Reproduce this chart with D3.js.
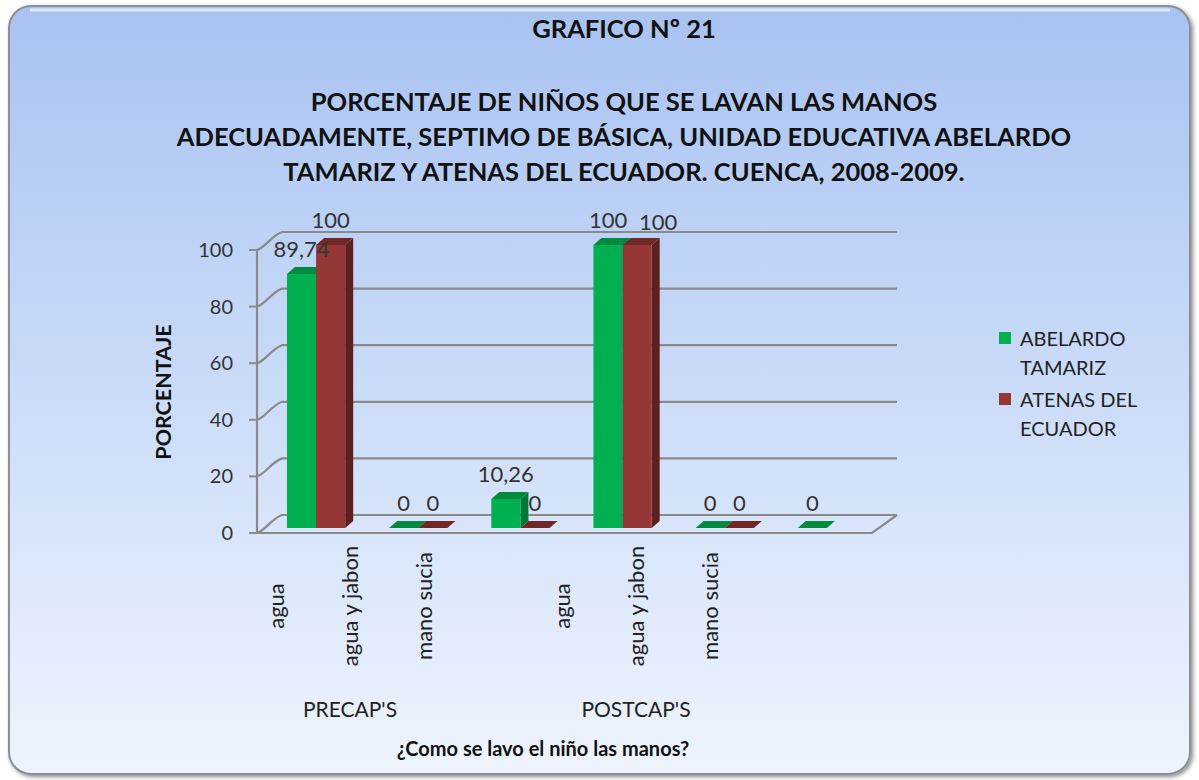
<!DOCTYPE html>
<html>
<head>
<meta charset="utf-8">
<script src="https://cdn.jsdelivr.net/npm/d3@7"></script>
<style>
  body { margin: 0; background: #ffffff; }
  svg { display: block; }
  text { font-family: Lato, "Open Sans", sans-serif; }
</style>
</head>
<body>
<svg width="1199" height="780"></svg>
<script>
// data
const groups = ["PRECAP'S", "POSTCAP'S"];
const subCats = ["agua", "agua y jabon", "mano sucia"];
const categories = ["pre-agua", "pre-jabon", "pre-sucia", "post-agua", "post-jabon", "post-sucia"];
const series = ["ABELARDO TAMARIZ", "ATENAS DEL ECUADOR"];
const abelardo = [89.74, 0, 10.26, 100, 0, 0];
const atenas = [100, 0, 0, 100, 0, null];
const labelsAbelardo = ["89,74", "0", "10,26", "100", "0", "0"];
const labelsAtenas = ["100", "0", "0", "100", "0", null];
const yTicks = [0, 20, 40, 60, 80, 100];
const legendLines = [["ABELARDO", "TAMARIZ"], ["ATENAS DEL", "ECUADOR"]];

const colors = {
  front: ["#00b050", "#953735"],
  top: ["#008a3e", "#6f2826"],
  side: ["#007a36", "#5c201e"]
};

const svg = d3.select('svg');
const width = +svg.attr('width');
const height = +svg.attr('height');

// background panel
const defs = svg.append('defs');
const bg = defs.append('linearGradient').attr('id', 'bg')
  .attr('x1', 0).attr('y1', 0).attr('x2', 0).attr('y2', 1);
bg.append('stop').attr('offset', '0%').attr('stop-color', '#a8c2f1');
bg.append('stop').attr('offset', '50%').attr('stop-color', '#cbdcf8');
bg.append('stop').attr('offset', '100%').attr('stop-color', '#eef4fd');

const shadow = defs.append('filter').attr('id', 'shadow')
  .attr('x', '-5%').attr('y', '-5%').attr('width', '110%').attr('height', '110%');
shadow.append('feDropShadow').attr('dx', 2).attr('dy', 2).attr('stdDeviation', 2)
  .attr('flood-color', '#000').attr('flood-opacity', 0.45);

svg.append('rect')
  .attr('x', 9).attr('y', 6).attr('width', 1181).attr('height', 768)
  .attr('rx', 22).attr('ry', 22)
  .attr('fill', 'url(#bg)')
  .attr('stroke', '#8a8f99').attr('stroke-width', 2)
  .attr('filter', 'url(#shadow)');
svg.append('path')
  .attr('d', 'M 30 10 L 1170 10')
  .attr('stroke', '#dce9fb').attr('stroke-width', 3);

// titles
svg.append('text')
  .attr('x', 624).attr('y', 38)
  .attr('text-anchor', 'middle')
  .attr('font-size', 25.5).attr('font-weight', 'bold').attr('fill', '#111')
  .text('GRAFICO Nº 21');

const titleLines = [
  'PORCENTAJE DE NIÑOS QUE SE LAVAN LAS MANOS',
  'ADECUADAMENTE, SEPTIMO DE BÁSICA, UNIDAD EDUCATIVA ABELARDO',
  'TAMARIZ Y ATENAS DEL ECUADOR. CUENCA, 2008-2009.'
];
svg.append('g').selectAll('text').data(titleLines).enter().append('text')
  .attr('x', 624)
  .attr('y', (d, i) => 111 + i * 35)
  .attr('text-anchor', 'middle')
  .attr('font-size', 25.5).attr('font-weight', 'bold').attr('fill', '#111')
  .text(d => d);

// scales
const yScale = d3.scaleLinear().domain([0, 100]).range([533, 250]);
const depth = { dx: 25, dy: -18 };   // back wall offset
const barShift = { dx: 0, dy: -5 };   // bars sit a bit behind the front plane
const barDepth = { dx: 8, dy: -7 };

const x0 = d3.scaleBand().domain(categories)
  .range([265, 878]).paddingInner(0.43).paddingOuter(0.215);
const x1 = d3.scaleBand().domain(series).range([0, x0.bandwidth()]);

const axisLeft = 257;
const floorRight = 872;

// walls & gridlines
const grid = svg.append('g').attr('stroke', '#8a8a8a').attr('fill', 'none').attr('stroke-width', 2.2);
grid.selectAll('.gl').data(yTicks).enter().append('path')
  .attr('class', 'gl')
  .attr('d', d => {
    const y = yScale(d);
    return `M ${axisLeft} ${y} C ${axisLeft + 8} ${y - 2}, ${axisLeft + 14} ${y + depth.dy + 4}, ${axisLeft + depth.dx} ${y + depth.dy}` +
      ` L ${floorRight + depth.dx} ${y + depth.dy}`;
  });
// floor front edge and right side
grid.append('path')
  .attr('d', `M ${axisLeft} ${yScale(0)} L ${floorRight} ${yScale(0)} L ${floorRight + depth.dx} ${yScale(0) + depth.dy}`);
// vertical axis line
grid.append('path')
  .attr('d', `M ${axisLeft} ${yScale(0)} L ${axisLeft} ${yScale(100)}`);

// y ticks
const yAxisG = svg.append('g');
yAxisG.selectAll('line').data(yTicks).enter().append('line')
  .attr('x1', axisLeft - 8).attr('x2', axisLeft)
  .attr('y1', d => yScale(d)).attr('y2', d => yScale(d))
  .attr('stroke', '#8a8a8a').attr('stroke-width', 2);
yAxisG.selectAll('text').data(yTicks).enter().append('text')
  .attr('x', axisLeft - 24)
  .attr('y', d => yScale(d) + 7)
  .attr('text-anchor', 'end')
  .attr('font-size', 20).attr('fill', '#333')
  .text(d => d);

svg.append('text')
  .attr('transform', `translate(171,392) rotate(-90)`)
  .attr('text-anchor', 'middle')
  .attr('font-size', 21.5).attr('font-weight', 'bold').attr('fill', '#111')
  .text('PORCENTAJE');

// bars
const values = [abelardo, atenas];
const labelSets = [labelsAbelardo, labelsAtenas];
const barData = [];
categories.forEach((c, i) => {
  series.forEach((s, j) => {
    if (values[j][i] !== null) barData.push({ cat: c, i, s, j, v: values[j][i], label: labelSets[j][i] });
  });
});

const barsG = svg.append('g').attr('transform', `translate(${barShift.dx},${barShift.dy})`);
const bar = barsG.selectAll('g').data(barData).enter().append('g');
const bx = d => x0(d.cat) + x1(d.s);
const bw = x1.bandwidth();
// side face
bar.append('path')
  .attr('fill', d => colors.side[d.j])
  .attr('d', d => {
    const x = bx(d) + bw, y0 = yScale(0), y = yScale(d.v);
    return `M ${x} ${y0} L ${x + barDepth.dx} ${y0 + barDepth.dy} L ${x + barDepth.dx} ${y + barDepth.dy} L ${x} ${y} Z`;
  });
// top face
bar.append('path')
  .attr('fill', d => colors.top[d.j])
  .attr('d', d => {
    const x = bx(d), y = yScale(d.v);
    return `M ${x} ${y} L ${x + barDepth.dx} ${y + barDepth.dy} L ${x + bw + barDepth.dx} ${y + barDepth.dy} L ${x + bw} ${y} Z`;
  });
// front face
bar.append('rect')
  .attr('x', bx)
  .attr('y', d => yScale(d.v))
  .attr('width', bw)
  .attr('height', d => yScale(0) - yScale(d.v))
  .attr('fill', d => colors.front[d.j]);

// value labels; when two wide labels sit at the same height, the second one moves aside
const collides = d => d.j === 1 && values[0][d.i] === d.v && d.label.length > 1;
barsG.selectAll('.vl').data(barData).enter().append('text')
  .attr('class', 'vl')
  .attr('x', d => bx(d) + bw / 2 + (collides(d) ? 21 : 0))
  .attr('y', d => yScale(d.v) - 17 + (collides(d) ? 2 : 0))
  .attr('text-anchor', 'middle')
  .attr('font-size', 22).attr('fill', '#333')
  .text(d => d.label);

// category labels
const gScale = d3.scaleBand().domain(groups).range([207, 779]);
const sScale = d3.scalePoint().domain(subCats).range([-74, 74]);
const catG = svg.append('g');
groups.forEach(g => {
  const cx = gScale(g) + gScale.bandwidth() / 2;
  catG.selectAll(null).data(subCats).enter().append('text')
    .attr('transform', d => `translate(${cx + sScale(d) + 8},606) rotate(-90)`)
    .attr('text-anchor', 'middle')
    .attr('font-size', 22).attr('fill', '#222')
    .text(d => d);
  catG.append('text')
    .attr('x', cx).attr('y', 717)
    .attr('text-anchor', 'middle')
    .attr('font-size', 21).attr('fill', '#222')
    .text(g);
});

svg.append('text')
  .attr('x', 543).attr('y', 756)
  .attr('text-anchor', 'middle')
  .attr('font-size', 20).attr('font-weight', 'bold').attr('fill', '#111')
  .text('¿Como se lavo el niño las manos?');

// legend
const legend = svg.append('g').attr('transform', 'translate(999,332)');
const item = legend.selectAll('g').data(series).enter().append('g')
  .attr('transform', (d, i) => `translate(0,${i * 61})`);
item.append('rect')
  .attr('width', 12).attr('height', 12)
  .attr('fill', (d, i) => colors.front[i]);
item.append('text')
  .attr('x', 21).attr('y', 14)
  .attr('font-size', 20).attr('fill', '#222')
  .selectAll('tspan').data((d, i) => legendLines[i]).enter().append('tspan')
  .attr('x', 21).attr('dy', (d, k) => k === 0 ? 0 : 29)
  .text(d => d);
</script>
</body>
</html>
